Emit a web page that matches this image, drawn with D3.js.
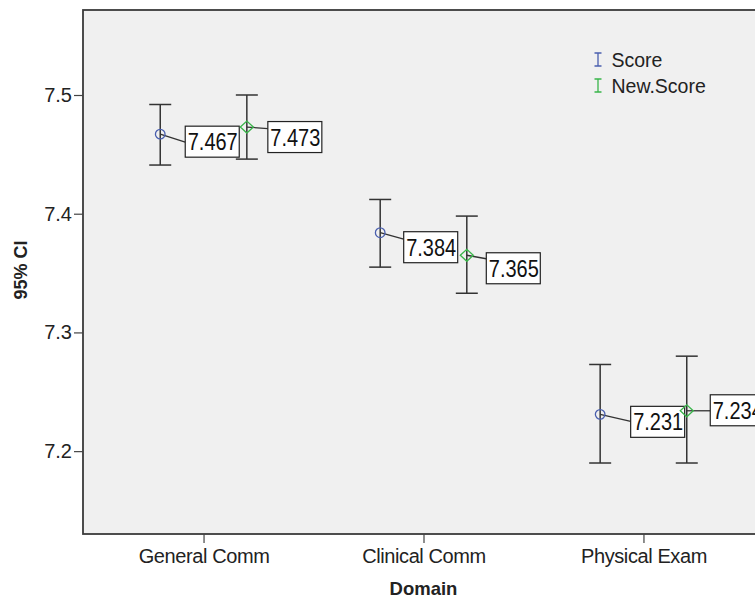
<!DOCTYPE html>
<html>
<head>
<meta charset="utf-8">
<script src="https://cdn.jsdelivr.net/npm/d3@7/dist/d3.min.js"></script>
<style>
  html, body { margin: 0; padding: 0; background: #fff; }
  svg { display: block; font-family: Arial, "Liberation Sans", sans-serif; }
</style>
</head>
<body>
<svg id="chart" width="755" height="600"></svg>
<script>
// Domains on the x axis
const domains = ["General Comm", "Clinical Comm", "Physical Exam"];
// Series shown side by side within each domain
const seriesNames = ["Score", "New.Score"];
// Means per domain
const scoreMean = [7.467, 7.384, 7.231];
const newScoreMean = [7.473, 7.365, 7.234];
// 95% confidence limits per domain
const scoreLower = [7.441, 7.355, 7.190];
const scoreUpper = [7.492, 7.412, 7.273];
const newScoreLower = [7.446, 7.333, 7.190];
const newScoreUpper = [7.500, 7.398, 7.280];
// Y axis tick values
const yTicks = [7.2, 7.3, 7.4, 7.5];

// Placement of each value label box relative to its marker: [dx, dy, leader end y]
const labelLayout = {
  "Score":     [[25, -8, 8], [23.5, -1, 6.5], [30.5, -8, 7]],
  "New.Score": [[21, -5.5, 1.5], [19.5, -2.5, 3.5], [23.5, -16, 0]]
};

const colors = { "Score": "#4a5fae", "New.Score": "#39b54a" };
const FONT = "Arial, 'Liberation Sans', sans-serif";

const svg = d3.select("#chart");
const margin = { left: 83, top: 10 };
const plotW = 681, plotH = 524;

const x = d3.scalePoint().domain(domains).range([0, plotW]).padding(0.548);
const sub = d3.scalePoint().domain(seriesNames).range([-43.3, 43.3]);
const y = d3.scaleLinear().domain([7.1302, 7.5716]).range([plotH, 0]);

const g = svg.append("g").attr("transform", `translate(${margin.left},${margin.top})`);

// Plot background and frame
g.append("rect")
  .attr("x", 0).attr("y", 0).attr("width", plotW).attr("height", plotH)
  .attr("fill", "#f0f0f0").attr("stroke", "#3a3a3a").attr("stroke-width", 1.8);

// Axes
const yAxis = d3.axisLeft(y).tickValues(yTicks).tickSize(9).tickSizeOuter(0).tickPadding(2)
  .tickFormat(d3.format(".1f"));
const gy = g.append("g").call(yAxis);
gy.select(".domain").remove();
gy.selectAll(".tick line").attr("stroke", "#444").attr("stroke-width", 1.2);
gy.selectAll(".tick text").attr("fill", "#222").style("font-size", "20px").style("font-family", FONT);

const xAxis = d3.axisBottom(x).tickSize(9).tickSizeOuter(0).tickPadding(6);
const gx = g.append("g").attr("transform", `translate(0,${plotH})`).call(xAxis);
gx.select(".domain").remove();
gx.selectAll(".tick line").attr("stroke", "#444").attr("stroke-width", 1.2);
gx.selectAll(".tick text").attr("fill", "#222").style("font-size", "20px").style("font-family", FONT)
  .attr("letter-spacing", "-0.4px");

// Axis titles
svg.append("text")
  .attr("x", margin.left + x(domains[1])).attr("y", 595)
  .attr("text-anchor", "middle").attr("font-weight", "bold").attr("font-size", "18.5px")
  .attr("fill", "#222").text("Domain");
svg.append("text")
  .attr("transform", `translate(27,270) rotate(-90)`)
  .attr("text-anchor", "middle").attr("font-weight", "bold").attr("font-size", "18px")
  .attr("fill", "#222").text("95% CI");

// Build per-series records
const seriesData = {
  "Score": domains.map((d, i) => ({ domain: d, i, mean: scoreMean[i], lo: scoreLower[i], hi: scoreUpper[i] })),
  "New.Score": domains.map((d, i) => ({ domain: d, i, mean: newScoreMean[i], lo: newScoreLower[i], hi: newScoreUpper[i] }))
};

const capHalf = 11;
seriesNames.forEach(s => {
  const grp = g.append("g");
  const rows = grp.selectAll("g.bar").data(seriesData[s]).join("g")
    .attr("transform", d => `translate(${x(d.domain) + sub(s)},0)`);

  // error bar stem and caps
  rows.append("line").attr("x1", 0).attr("x2", 0)
    .attr("y1", d => y(d.hi)).attr("y2", d => y(d.lo))
    .attr("stroke", "#333").attr("stroke-width", 1.5);
  rows.append("line").attr("x1", -capHalf).attr("x2", capHalf)
    .attr("y1", d => y(d.hi)).attr("y2", d => y(d.hi))
    .attr("stroke", "#333").attr("stroke-width", 1.5);
  rows.append("line").attr("x1", -capHalf).attr("x2", capHalf)
    .attr("y1", d => y(d.lo)).attr("y2", d => y(d.lo))
    .attr("stroke", "#333").attr("stroke-width", 1.5);

  // value label with leader line
  rows.each(function(d) {
    const sel = d3.select(this);
    const [dx, dy, ly] = labelLayout[s][d.i];
    const cy = y(d.mean);
    const lbl = sel.append("g").attr("transform", `translate(${dx},${cy + dy})`);
    lbl.append("rect").attr("x", 0).attr("y", 0).attr("width", 54).attr("height", 31)
      .attr("fill", "#fff").attr("stroke", "#222").attr("stroke-width", 1.2);
    lbl.append("text").attr("x", 2.5).attr("y", 24)
      .attr("font-size", "23px").attr("fill", "#111")
      .attr("textLength", 50).attr("lengthAdjust", "spacingAndGlyphs")
      .text(d3.format(".3f")(d.mean));
    sel.insert("line", "g")
      .attr("x1", 0).attr("y1", cy).attr("x2", dx).attr("y2", cy + ly)
      .attr("stroke", "#333").attr("stroke-width", 1.3);
  });

  // mean marker
  if (s === "Score") {
    rows.append("circle").attr("cx", 0).attr("cy", d => y(d.mean)).attr("r", 4.8)
      .attr("fill", "none").attr("stroke", colors[s]).attr("stroke-width", 1.3);
  } else {
    rows.append("path")
      .attr("d", d => { const cy = y(d.mean); return `M-6.5,${cy}L0,${cy - 6}L6.5,${cy}L0,${cy + 6}Z`; })
      .attr("fill", "none").attr("stroke", colors[s]).attr("stroke-width", 1.3);
  }
});

// Legend
const legend = svg.append("g").attr("transform", "translate(598,53)");
seriesNames.forEach((s, i) => {
  const lg = legend.append("g").attr("transform", `translate(0,${i * 26})`);
  lg.append("path").attr("d", "M-3.5,0H3.5M0,0V13M-3.5,13H3.5")
    .attr("stroke", colors[s]).attr("stroke-width", 1.3).attr("fill", "none");
  lg.append("text").attr("x", 13.5).attr("y", 14).attr("font-size", "19.5px").attr("fill", "#222").text(s);
});
</script>
</body>
</html>
